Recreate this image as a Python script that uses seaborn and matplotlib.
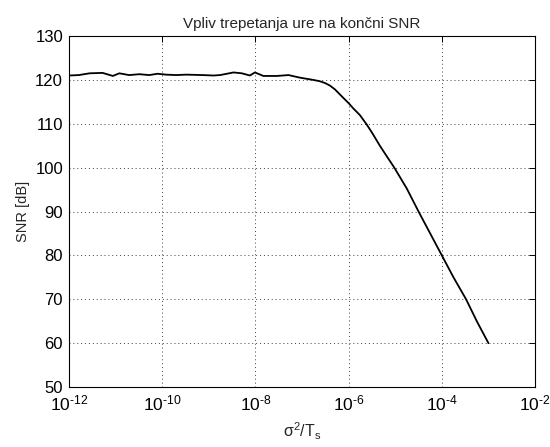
import numpy as np
import pandas as pd
import matplotlib
matplotlib.use("Agg")
import matplotlib.pyplot as plt
import seaborn as sns
from matplotlib.ticker import LogLocator, FuncFormatter, NullLocator, MultipleLocator

# Data (x given as log10 exponent of sigma^2/Ts)
log10_sigma2_Ts = [-12.0, -11.79, -11.56, -11.28, -11.06, -10.92, -10.71, -10.49, -10.28,
                   -10.10, -9.92, -9.70, -9.49, -9.13, -8.90, -8.76, -8.47, -8.29, -8.12,
                   -8.01, -7.83, -7.54, -7.29, -7.04, -6.76, -6.62, -6.51, -6.40, -6.29,
                   -6.18, -6.00, -5.90, -5.76, -5.61, -5.50, -5.33, -5.17, -5.02, -4.75,
                   -4.50, -4.25, -4.00, -3.75, -3.48, -3.25, -3.00]
snr_db = [121.0, 121.1, 121.5, 121.6, 120.9, 121.5, 121.1, 121.3, 121.1,
          121.4, 121.2, 121.1, 121.2, 121.1, 121.0, 121.1, 121.7, 121.5, 121.0,
          121.7, 120.9, 120.9, 121.1, 120.5, 120.0, 119.7, 119.3, 118.7, 117.8,
          116.6, 114.7, 113.5, 112.0, 109.8, 108.0, 105.0, 102.4, 100.0, 95.2,
          90.0, 85.0, 80.0, 75.0, 70.0, 65.0, 60.0]

title_text = "Vpliv trepetanja ure na končni SNR"
xlabel_text = r"$\sigma^2/T_s$"
ylabel_text = "SNR [dB]"

df = pd.DataFrame({"x": np.power(10.0, log10_sigma2_Ts), "snr": snr_db})

sns.set_theme(style="white")
plt.rcParams["font.family"] = ["Liberation Sans", "DejaVu Sans"]
plt.rcParams["mathtext.fontset"] = "custom"
plt.rcParams["mathtext.rm"] = "Liberation Sans"
plt.rcParams["mathtext.it"] = "Liberation Sans"
plt.rcParams["mathtext.default"] = "regular"
plt.rcParams["axes.unicode_minus"] = False

fig = plt.figure(figsize=(5.5, 4.47), dpi=100)
ax = fig.add_axes([0.1255, 0.1342, 0.8473, 0.7852])

sns.lineplot(data=df, x="x", y="snr", ax=ax, color="black", linewidth=1.3,
             estimator=None, sort=False)

ax.set_xscale("log")
ax.set_xlim(1e-12, 1e-2)
ax.set_ylim(50, 130)
ax.xaxis.set_major_locator(LogLocator(base=100.0, numticks=20))


def log_fmt(v, pos):
    e = int(round(np.log10(v)))
    return r"$10^{\text{%d}}$" % e


ax.xaxis.set_major_formatter(FuncFormatter(log_fmt))
ax.xaxis.set_minor_locator(NullLocator())
ax.yaxis.set_major_locator(MultipleLocator(10))

ax.grid(True, which="major", color="0.25", linestyle=(0, (1, 3)), linewidth=0.7)
for s in ax.spines.values():
    s.set_color("black")
    s.set_linewidth(0.8)
ax.tick_params(direction="in", length=4, width=0.7, colors="black",
               top=True, right=True, labelsize=12, pad=4.3)
ax.tick_params(axis="x", labelsize=12.5, pad=5)

ax.set_title(title_text, fontsize=11, pad=6)
ax.set_xlabel(xlabel_text, fontsize=11.5, labelpad=5)
ax.set_ylabel(ylabel_text, fontsize=10.5, labelpad=4)

fig.savefig("out.png", dpi=100, facecolor="white")
